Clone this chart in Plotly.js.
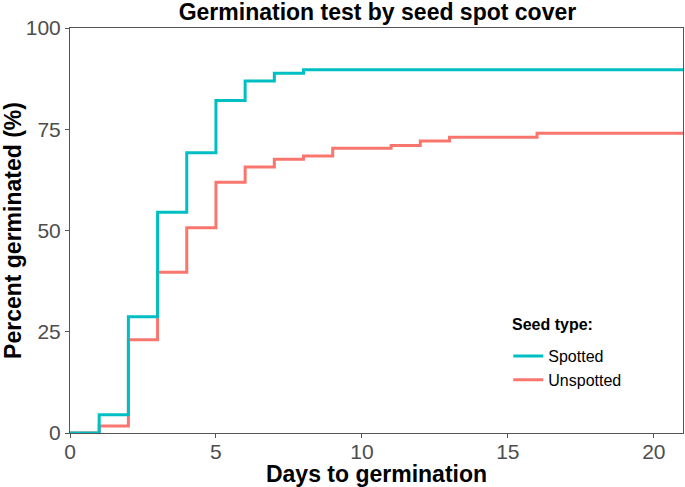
<!DOCTYPE html>
<html>
<head>
<meta charset="utf-8">
<script src="https://cdn.plot.ly/plotly-3.0.1.min.js"></script>
<style>html,body{margin:0;padding:0;background:#fff;}#chart{width:685px;height:487px;}</style>
</head>
<body>
<div id="chart"></div>
<script>
const spottedDays = [0, 1, 2, 3, 4, 5, 6, 7, 8, 21];
const spottedPct = [0, 4.5, 28.7, 54.5, 69.2, 82.1, 86.9, 88.8, 89.7, 89.7];
const unspottedDays = [0, 1, 2, 3, 4, 5, 6, 7, 8, 9, 11, 12, 13, 16, 21];
const unspottedPct = [0, 1.7, 23.0, 39.7, 50.7, 61.9, 65.7, 67.6, 68.4, 70.3, 71.0, 72.1, 73.0, 74.0, 74.0];
const seriesNames = ["Spotted", "Unspotted"];
const xTicks = [0, 5, 10, 15, 20];
const yTicks = [0, 25, 50, 75, 100];

const font = "Liberation Sans, Arial, sans-serif";
const traces = [
  {x: unspottedDays, y: unspottedPct, name: seriesNames[1], mode: "lines",
   line: {shape: "hv", color: "#F8766D", width: 3}, legendrank: 2},
  {x: spottedDays, y: spottedPct, name: seriesNames[0], mode: "lines",
   line: {shape: "hv", color: "#00BFC4", width: 3}, legendrank: 1}
];
const axisCommon = {
  showgrid: false, zeroline: false, showline: true, mirror: true,
  linecolor: "#555555", linewidth: 1,
  ticks: "outside", ticklen: 4, tickcolor: "#555555", tickwidth: 1,
  tickfont: {family: font, size: 21, color: "#4D4D4D"}
};
const layout = {
  width: 685, height: 487,
  margin: {l: 70, r: 2, t: 28, b: 54},
  paper_bgcolor: "#fff", plot_bgcolor: "#fff",
  title: {text: "<b>Germination test by seed spot cover</b>", x: 0.551, xanchor: "center",
          y: 0.975, yanchor: "middle", font: {family: font, size: 23, color: "#000"}},
  xaxis: Object.assign({}, axisCommon, {range: [0, 21], tickvals: xTicks, ticklabelstandoff: -4,
    title: {text: "<b>Days to germination</b>", standoff: 5, font: {family: font, size: 23, color: "#000"}}}),
  yaxis: Object.assign({}, axisCommon, {range: [0, 100], tickvals: yTicks,
    title: {text: "<b>Percent germinated (%)</b>", standoff: 6, font: {family: font, size: 23, color: "#000"}}}),
  legend: {x: 0.715, y: 0.232, xanchor: "left", yanchor: "top", bgcolor: "rgba(0,0,0,0)",
    font: {family: font, size: 16, color: "#000"}, itemwidth: 30, tracegroupgap: 0},
  annotations: [{text: "<b>Seed type:</b>", xref: "paper", yref: "paper", x: 0.717, y: 0.267,
    xanchor: "left", yanchor: "middle", showarrow: false, font: {family: font, size: 16, color: "#000"}}],
  showlegend: true
};
Plotly.newPlot("chart", traces, layout, {displayModeBar: false, staticPlot: true});
</script>
</body>
</html>
